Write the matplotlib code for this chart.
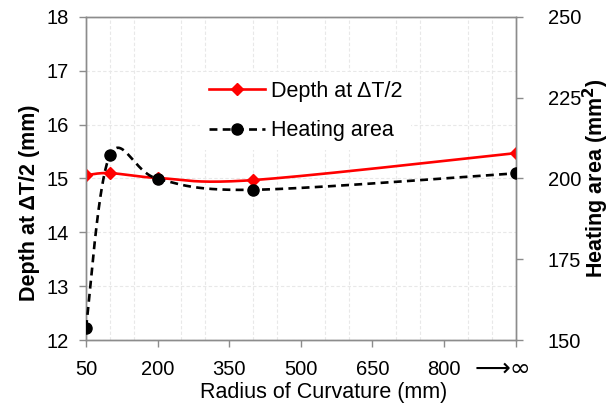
import numpy as np
import matplotlib
matplotlib.use("Agg")
import matplotlib.pyplot as plt
import matplotlib.transforms as mtransforms
from matplotlib.lines import Line2D

plt.rcParams['font.family'] = ['Liberation Sans', 'DejaVu Sans']

# ---- data ----
radius = [50, 100, 200, 400, 950]          # 950 stands for the "infinity" position
depth = [15.06, 15.10, 15.01, 14.97, 15.47]  # mm (left axis)
area = [153.8, 207.1, 199.9, 196.5, 201.6]   # mm^2 (right axis)
xtick_vals = [50, 200, 350, 500, 650, 800, 950]
xtick_labels = ['50', '200', '350', '500', '650', '800', '\u27f6\u221e']
left_ticks = [12, 13, 14, 15, 16, 17, 18]
right_ticks = [150, 175, 200, 225, 250]


def smooth(xs, ys, n=60):
    """Excel-like smoothed line (Catmull-Rom as cubic Bezier)."""
    P = np.column_stack([xs, ys]).astype(float)
    m = len(P)
    ext = np.vstack([P[0], P, P[-1]])
    out = []
    t = np.linspace(0, 1, n)[:, None]
    for i in range(m - 1):
        p0, p1 = ext[i + 1], ext[i + 2]
        c1 = p0 + (ext[i + 2] - ext[i]) / 6.0
        c2 = p1 - (ext[i + 3] - ext[i + 1]) / 6.0
        seg = ((1 - t) ** 3) * p0 + 3 * ((1 - t) ** 2) * t * c1 + 3 * (1 - t) * t ** 2 * c2 + t ** 3 * p1
        out.append(seg if i == 0 else seg[1:])
    out = np.vstack(out)
    return out[:, 0], out[:, 1]


fig = plt.figure(figsize=(6.14, 4.07), dpi=100)
ax = fig.add_axes([0.140, 0.164, 0.700, 0.795])
ax2 = ax.twinx()

grid_c = '#e8e8e8'
ax.set_xlim(50, 950)
ax.set_ylim(12, 18)
ax2.set_ylim(150, 250)
ax.set_xticks(xtick_vals)
ax.set_xticklabels(xtick_labels)
ax.set_xticks(np.arange(50, 951, 50), minor=True)
ax.set_yticks(left_ticks)
ax2.set_yticks(right_ticks)
ax.grid(True, which='minor', axis='x', color=grid_c, linestyle=(0, (3, 2)), linewidth=0.8)
ax.grid(True, which='major', axis='y', color=grid_c, linestyle=(0, (3, 2)), linewidth=0.8)
ax.set_axisbelow(True)

spine_c = '#8c8c8c'
for a in (ax, ax2):
    for s in a.spines.values():
        s.set_color(spine_c)
        s.set_linewidth(1.0)
ax.tick_params(axis='both', which='major', direction='out', length=5, width=1,
               color=spine_c, labelsize=14.5, labelcolor='black')
ax.tick_params(axis='x', which='minor', length=0)
ax.tick_params(axis='x', pad=9.5)
ax.tick_params(axis='y', pad=7.5)
ax2.tick_params(axis='y', direction='out', length=5, width=1, color=spine_c,
                labelsize=14.5, labelcolor='black', pad=18)

# infinity label: long arrow + infinity, shifted slightly left/up
lab = ax.get_xticklabels()[-1]
lab.set_family(['DejaVu Sans'])
lab.set_fontsize(18)
lab.set_transform(lab.get_transform() + mtransforms.ScaledTranslation(-13 / 100, 4 / 100, fig.dpi_scale_trans))

# ---- series ----
sx, sy = smooth(radius, depth)
ax.plot(sx, sy, color='#ff0000', linewidth=1.9, zorder=3)
ax.plot(radius, depth, linestyle='none', marker='D', markersize=6, color='#ff0000', zorder=4)

bx, by = smooth(radius, area)
ax2.plot(bx, by, color='black', linewidth=1.9, linestyle=(0, (3, 2)), zorder=3)
ax2.plot(radius, area, linestyle='none', marker='o', markersize=8, color='black', zorder=4)

ax.set_xlabel('Radius of Curvature (mm)', fontsize=15.5)
ax.xaxis.set_label_coords(0.553, -0.128)
ax.set_ylabel('Depth at \u0394T/2 (mm)', fontsize=15.5, fontweight='bold')
ax.yaxis.set_label_coords(-0.108, 0.424)
ax2.set_ylabel('Heating area (mm$^\\mathbf{2}$)', fontsize=15.5, fontweight='bold')
ax2.yaxis.set_label_coords(1.152, 0.5)

h1 = Line2D([], [], color='#ff0000', linewidth=1.9, marker='D', markersize=6)
h2 = Line2D([], [], color='black', linewidth=1.9, linestyle=(0, (3, 2)), marker='o', markersize=8)
leg = fig.legend([h1, h2], ['Depth at \u0394T/2', 'Heating area'], loc='center left',
                 bbox_to_anchor=(200 / 614, 1 - 111 / 407), frameon=True, fontsize=15.5,
                 handlelength=2.6, handletextpad=0.3, labelspacing=0.85, borderpad=0.4,
                 borderaxespad=0)
leg.get_frame().set_facecolor('white')
leg.get_frame().set_edgecolor('none')
leg.get_frame().set_alpha(1)

fig.savefig('out.png', dpi=100)
